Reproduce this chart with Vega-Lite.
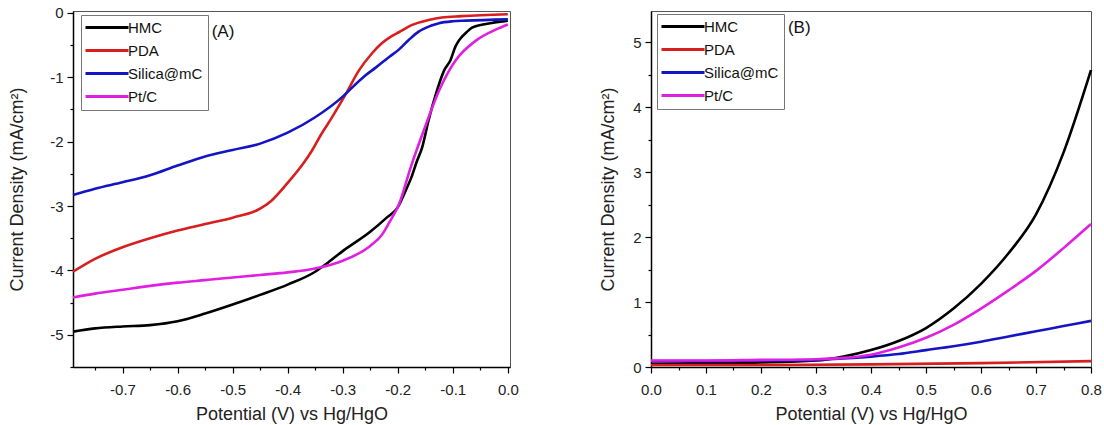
{
  "$schema": "https://vega.github.io/schema/vega-lite/v6.json",
  "background": "white",
  "padding": {"left": 8, "top": 5, "right": 0, "bottom": 0},
  "spacing": 80,
  "config": {
    "font": "Liberation Sans",
    "view": {"stroke": "#555", "strokeWidth": 1},
    "axis": {
      "grid": false,
      "domainColor": "#000",
      "domainWidth": 1.5,
      "tickColor": "#000",
      "tickWidth": 1.2,
      "tickCount": 100,
      "labelFont": "Liberation Sans",
      "labelFontSize": 15,
      "labelColor": "#222",
      "labelOverlap": false,
      "titleFont": "Liberation Sans",
      "titleFontSize": 18,
      "titleFontWeight": "normal",
      "titleColor": "#222"
    }
  },
  "datasets": {
    "A": [
      {"s": "HMC", "x": -0.79, "y": -4.95}, {"s": "HMC", "x": -0.75, "y": -4.9}, {"s": "HMC", "x": -0.7, "y": -4.87},
      {"s": "HMC", "x": -0.65, "y": -4.85}, {"s": "HMC", "x": -0.6, "y": -4.79}, {"s": "HMC", "x": -0.55, "y": -4.67},
      {"s": "HMC", "x": -0.5, "y": -4.53}, {"s": "HMC", "x": -0.45, "y": -4.38}, {"s": "HMC", "x": -0.4, "y": -4.22},
      {"s": "HMC", "x": -0.35, "y": -4.02}, {"s": "HMC", "x": -0.33, "y": -3.9}, {"s": "HMC", "x": -0.3, "y": -3.7},
      {"s": "HMC", "x": -0.25, "y": -3.4}, {"s": "HMC", "x": -0.22, "y": -3.18}, {"s": "HMC", "x": -0.2, "y": -3.02},
      {"s": "HMC", "x": -0.185, "y": -2.75}, {"s": "HMC", "x": -0.175, "y": -2.55}, {"s": "HMC", "x": -0.165, "y": -2.3},
      {"s": "HMC", "x": -0.156, "y": -2.1}, {"s": "HMC", "x": -0.144, "y": -1.67}, {"s": "HMC", "x": -0.131, "y": -1.27},
      {"s": "HMC", "x": -0.116, "y": -0.9}, {"s": "HMC", "x": -0.104, "y": -0.73}, {"s": "HMC", "x": -0.095, "y": -0.52},
      {"s": "HMC", "x": -0.089, "y": -0.43}, {"s": "HMC", "x": -0.075, "y": -0.3}, {"s": "HMC", "x": -0.065, "y": -0.23},
      {"s": "HMC", "x": -0.045, "y": -0.18}, {"s": "HMC", "x": -0.029, "y": -0.155}, {"s": "HMC", "x": 0.0, "y": -0.12},

      {"s": "PDA", "x": -0.79, "y": -4.02}, {"s": "PDA", "x": -0.75, "y": -3.82}, {"s": "PDA", "x": -0.7, "y": -3.64},
      {"s": "PDA", "x": -0.65, "y": -3.5}, {"s": "PDA", "x": -0.6, "y": -3.38}, {"s": "PDA", "x": -0.55, "y": -3.28},
      {"s": "PDA", "x": -0.5, "y": -3.18}, {"s": "PDA", "x": -0.45, "y": -3.04}, {"s": "PDA", "x": -0.43, "y": -2.92},
      {"s": "PDA", "x": -0.4, "y": -2.64}, {"s": "PDA", "x": -0.37, "y": -2.32}, {"s": "PDA", "x": -0.356, "y": -2.14},
      {"s": "PDA", "x": -0.34, "y": -1.9}, {"s": "PDA", "x": -0.32, "y": -1.63}, {"s": "PDA", "x": -0.295, "y": -1.27},
      {"s": "PDA", "x": -0.271, "y": -0.9}, {"s": "PDA", "x": -0.247, "y": -0.63}, {"s": "PDA", "x": -0.23, "y": -0.48},
      {"s": "PDA", "x": -0.211, "y": -0.36}, {"s": "PDA", "x": -0.198, "y": -0.3}, {"s": "PDA", "x": -0.175, "y": -0.19},
      {"s": "PDA", "x": -0.144, "y": -0.11}, {"s": "PDA", "x": -0.12, "y": -0.07}, {"s": "PDA", "x": -0.084, "y": -0.05},
      {"s": "PDA", "x": 0.0, "y": -0.02},

      {"s": "Silica@mC", "x": -0.79, "y": -2.83}, {"s": "Silica@mC", "x": -0.75, "y": -2.73}, {"s": "Silica@mC", "x": -0.7, "y": -2.63},
      {"s": "Silica@mC", "x": -0.65, "y": -2.52}, {"s": "Silica@mC", "x": -0.6, "y": -2.37}, {"s": "Silica@mC", "x": -0.55, "y": -2.23},
      {"s": "Silica@mC", "x": -0.5, "y": -2.13}, {"s": "Silica@mC", "x": -0.45, "y": -2.03}, {"s": "Silica@mC", "x": -0.4, "y": -1.86},
      {"s": "Silica@mC", "x": -0.35, "y": -1.62}, {"s": "Silica@mC", "x": -0.3, "y": -1.3}, {"s": "Silica@mC", "x": -0.289, "y": -1.21},
      {"s": "Silica@mC", "x": -0.26, "y": -0.98}, {"s": "Silica@mC", "x": -0.24, "y": -0.85}, {"s": "Silica@mC", "x": -0.215, "y": -0.68},
      {"s": "Silica@mC", "x": -0.198, "y": -0.57}, {"s": "Silica@mC", "x": -0.18, "y": -0.42}, {"s": "Silica@mC", "x": -0.162, "y": -0.29},
      {"s": "Silica@mC", "x": -0.14, "y": -0.2}, {"s": "Silica@mC", "x": -0.125, "y": -0.16}, {"s": "Silica@mC", "x": -0.1, "y": -0.13},
      {"s": "Silica@mC", "x": -0.076, "y": -0.12}, {"s": "Silica@mC", "x": 0.0, "y": -0.1},

      {"s": "Pt/C", "x": -0.79, "y": -4.42}, {"s": "Pt/C", "x": -0.75, "y": -4.36}, {"s": "Pt/C", "x": -0.7, "y": -4.3},
      {"s": "Pt/C", "x": -0.65, "y": -4.24}, {"s": "Pt/C", "x": -0.6, "y": -4.19}, {"s": "Pt/C", "x": -0.55, "y": -4.15},
      {"s": "Pt/C", "x": -0.5, "y": -4.11}, {"s": "Pt/C", "x": -0.45, "y": -4.07}, {"s": "Pt/C", "x": -0.4, "y": -4.03},
      {"s": "Pt/C", "x": -0.35, "y": -3.97}, {"s": "Pt/C", "x": -0.3, "y": -3.85}, {"s": "Pt/C", "x": -0.25, "y": -3.62},
      {"s": "Pt/C", "x": -0.229, "y": -3.45}, {"s": "Pt/C", "x": -0.215, "y": -3.25}, {"s": "Pt/C", "x": -0.198, "y": -2.98},
      {"s": "Pt/C", "x": -0.175, "y": -2.36}, {"s": "Pt/C", "x": -0.149, "y": -1.74}, {"s": "Pt/C", "x": -0.125, "y": -1.21},
      {"s": "Pt/C", "x": -0.095, "y": -0.74}, {"s": "Pt/C", "x": -0.058, "y": -0.43}, {"s": "Pt/C", "x": -0.022, "y": -0.26},
      {"s": "Pt/C", "x": 0.0, "y": -0.18}
    ],
    "B": [
      {"s": "HMC", "x": 0.0, "y": 0.05}, {"s": "HMC", "x": 0.1, "y": 0.06}, {"s": "HMC", "x": 0.2, "y": 0.07},
      {"s": "HMC", "x": 0.3, "y": 0.1}, {"s": "HMC", "x": 0.35, "y": 0.16}, {"s": "HMC", "x": 0.4, "y": 0.26},
      {"s": "HMC", "x": 0.45, "y": 0.4}, {"s": "HMC", "x": 0.5, "y": 0.6}, {"s": "HMC", "x": 0.55, "y": 0.9},
      {"s": "HMC", "x": 0.6, "y": 1.28}, {"s": "HMC", "x": 0.65, "y": 1.75}, {"s": "HMC", "x": 0.7, "y": 2.35},
      {"s": "HMC", "x": 0.75, "y": 3.3}, {"s": "HMC", "x": 0.8, "y": 4.57},

      {"s": "PDA", "x": 0.0, "y": 0.03}, {"s": "PDA", "x": 0.2, "y": 0.03}, {"s": "PDA", "x": 0.4, "y": 0.04},
      {"s": "PDA", "x": 0.6, "y": 0.06}, {"s": "PDA", "x": 0.8, "y": 0.09},

      {"s": "Silica@mC", "x": 0.0, "y": 0.09}, {"s": "Silica@mC", "x": 0.1, "y": 0.09}, {"s": "Silica@mC", "x": 0.2, "y": 0.1},
      {"s": "Silica@mC", "x": 0.3, "y": 0.11}, {"s": "Silica@mC", "x": 0.35, "y": 0.13}, {"s": "Silica@mC", "x": 0.4, "y": 0.16},
      {"s": "Silica@mC", "x": 0.45, "y": 0.2}, {"s": "Silica@mC", "x": 0.5, "y": 0.26}, {"s": "Silica@mC", "x": 0.55, "y": 0.32},
      {"s": "Silica@mC", "x": 0.6, "y": 0.39}, {"s": "Silica@mC", "x": 0.65, "y": 0.47}, {"s": "Silica@mC", "x": 0.7, "y": 0.55},
      {"s": "Silica@mC", "x": 0.75, "y": 0.63}, {"s": "Silica@mC", "x": 0.8, "y": 0.71},

      {"s": "Pt/C", "x": 0.0, "y": 0.1}, {"s": "Pt/C", "x": 0.1, "y": 0.1}, {"s": "Pt/C", "x": 0.2, "y": 0.11},
      {"s": "Pt/C", "x": 0.3, "y": 0.12}, {"s": "Pt/C", "x": 0.35, "y": 0.14}, {"s": "Pt/C", "x": 0.4, "y": 0.19},
      {"s": "Pt/C", "x": 0.45, "y": 0.3}, {"s": "Pt/C", "x": 0.5, "y": 0.45}, {"s": "Pt/C", "x": 0.55, "y": 0.65},
      {"s": "Pt/C", "x": 0.6, "y": 0.9}, {"s": "Pt/C", "x": 0.65, "y": 1.18}, {"s": "Pt/C", "x": 0.7, "y": 1.48},
      {"s": "Pt/C", "x": 0.75, "y": 1.83}, {"s": "Pt/C", "x": 0.8, "y": 2.2}
    ]
  },
  "resolve": {"scale": {"color": "independent"}, "legend": {"color": "independent"}},
  "hconcat": [
    {
      "width": 437,
      "height": 356,
      "layer": [
        {
          "data": {"name": "A"},
          "mark": {"type": "line", "strokeWidth": 2.6, "interpolate": "monotone"},
          "encoding": {
            "x": {
              "field": "x", "type": "quantitative",
              "scale": {"domain": [-0.79, 0.004], "nice": false, "zero": false},
              "axis": {
                "title": "Potential (V) vs Hg/HgO",
                "values": [-0.75, -0.7, -0.65, -0.6, -0.55, -0.5, -0.45, -0.4, -0.35, -0.3, -0.25, -0.2, -0.15, -0.1, -0.05, 0],
                "labelExpr": "round(abs(datum.value)*20) % 2 == 1 ? '' : (datum.value < -0.001 ? '-' : '') + format(abs(datum.value), '.1f')",
                "tickSize": {"condition": {"test": "round(abs(datum.value)*20) % 2 == 1", "value": 3}, "value": 6},
                "labelFlush": false,
                "labelPadding": 9,
                "titlePadding": 8
              }
            },
            "y": {
              "field": "y", "type": "quantitative",
              "scale": {"domain": [-5.5, 0.03], "nice": false, "zero": false},
              "axis": {
                "title": "Current Density (mA/cm²)",
                "values": [-5.5, -5, -4.5, -4, -3.5, -3, -2.5, -2, -1.5, -1, -0.5, 0],
                "labelExpr": "round(abs(datum.value)*2) % 2 == 1 ? '' : (datum.value < -0.001 ? '-' : '') + format(abs(datum.value), 'd')",
                "tickSize": {"condition": {"test": "round(abs(datum.value)*2) % 2 == 1", "value": 3}, "value": 6},
                "labelPadding": 4,
                "titlePadding": 23
              }
            },
            "color": {
              "field": "s", "type": "nominal",
              "scale": {"domain": ["HMC", "PDA", "Silica@mC", "Pt/C"], "range": ["#000000", "#d81e1e", "#1414c4", "#e020e0"]},
              "legend": {
                "orient": "none", "legendX": 8, "legendY": 4, "title": null,
                "symbolType": "M-1.6,0H7", "symbolSize": 100, "symbolStrokeWidth": 3,
                "labelFont": "Liberation Sans", "labelFontSize": 15, "labelColor": "#111",
                "labelOffset": 27, "padding": 5, "rowPadding": 7,
                "strokeColor": "#777", "fillColor": "white"
              }
            }
          }
        },
        {
          "data": {"values": [{}]},
          "mark": {"type": "text", "fontSize": 17, "font": "Liberation Sans", "align": "left", "baseline": "middle", "color": "#111"},
          "encoding": {"x": {"datum": -0.538}, "y": {"datum": -0.29}, "text": {"value": "(A)"}}
        }
      ]
    },
    {
      "width": 440,
      "height": 356,
      "layer": [
        {
          "data": {"name": "B"},
          "mark": {"type": "line", "strokeWidth": 2.6, "interpolate": "monotone"},
          "encoding": {
            "x": {
              "field": "x", "type": "quantitative",
              "scale": {"domain": [0, 0.8], "nice": false, "zero": false},
              "axis": {
                "title": "Potential (V) vs Hg/HgO",
                "values": [0, 0.05, 0.1, 0.15, 0.2, 0.25, 0.3, 0.35, 0.4, 0.45, 0.5, 0.55, 0.6, 0.65, 0.7, 0.75, 0.8],
                "labelExpr": "round(abs(datum.value)*20) % 2 == 1 ? '' : format(datum.value, '.1f')",
                "tickSize": {"condition": {"test": "round(abs(datum.value)*20) % 2 == 1", "value": 3}, "value": 6},
                "labelFlush": false,
                "labelPadding": 9,
                "titlePadding": 8
              }
            },
            "y": {
              "field": "y", "type": "quantitative",
              "scale": {"domain": [0, 5.48], "nice": false, "zero": false},
              "axis": {
                "title": "Current Density (mA/cm²)",
                "values": [0, 0.5, 1, 1.5, 2, 2.5, 3, 3.5, 4, 4.5, 5],
                "labelExpr": "round(abs(datum.value)*2) % 2 == 1 ? '' : format(datum.value, 'd')",
                "tickSize": {"condition": {"test": "round(abs(datum.value)*2) % 2 == 1", "value": 3}, "value": 6},
                "labelPadding": 4,
                "titlePadding": 15
              }
            },
            "color": {
              "field": "s", "type": "nominal",
              "scale": {"domain": ["HMC", "PDA", "Silica@mC", "Pt/C"], "range": ["#000000", "#d81e1e", "#1414c4", "#e020e0"]},
              "legend": {
                "orient": "none", "legendX": 6, "legendY": 3, "title": null,
                "symbolType": "M-1.6,0H7", "symbolSize": 100, "symbolStrokeWidth": 3,
                "labelFont": "Liberation Sans", "labelFontSize": 15, "labelColor": "#111",
                "labelOffset": 27, "padding": 5, "rowPadding": 7,
                "strokeColor": "#777", "fillColor": "white"
              }
            }
          }
        },
        {
          "data": {"values": [{}]},
          "mark": {"type": "text", "fontSize": 17, "font": "Liberation Sans", "align": "left", "baseline": "middle", "color": "#111"},
          "encoding": {"x": {"datum": 0.249}, "y": {"datum": 5.22}, "text": {"value": "(B)"}}
        }
      ]
    }
  ]
}
